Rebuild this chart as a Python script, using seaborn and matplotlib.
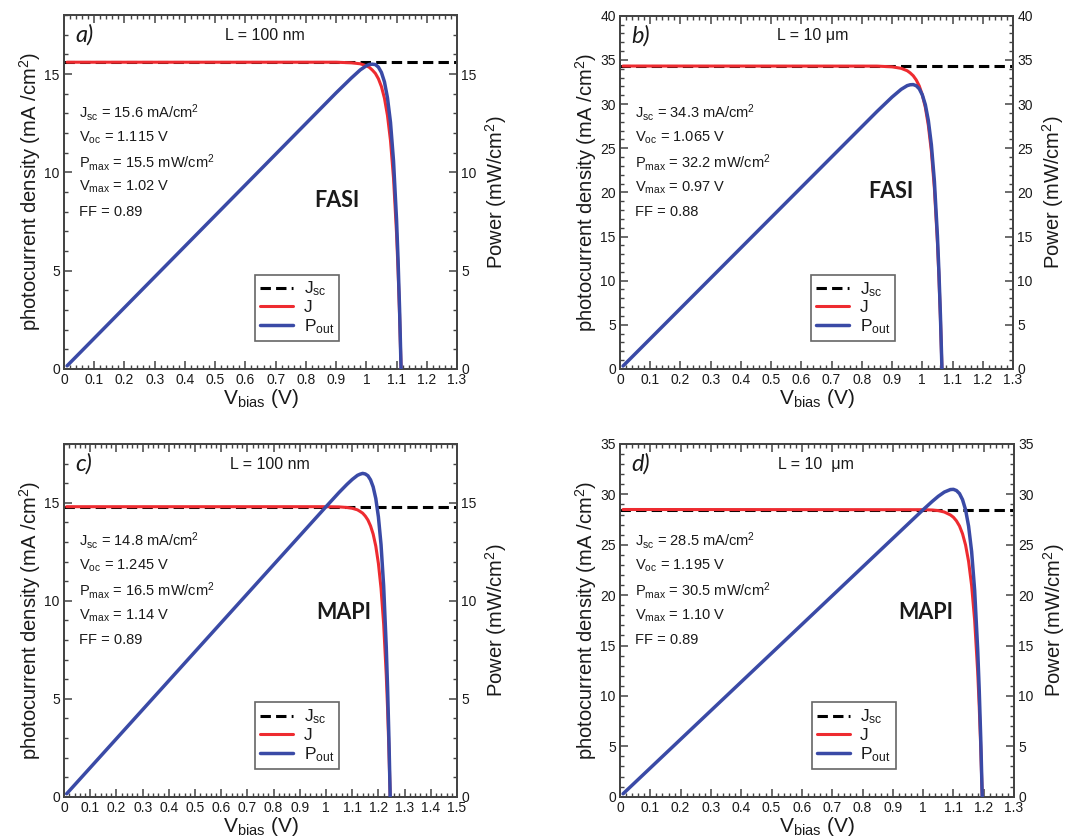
import matplotlib
matplotlib.use("Agg")
import matplotlib.pyplot as plt
from matplotlib.ticker import MultipleLocator, FuncFormatter
import seaborn as sns

# ---------------------------------------------------------------- data
# a) FASI, L = 100 nm
V_A = [0.01, 0.90, 0.95, 0.98, 1.00, 1.01, 1.02, 1.03, 1.04, 1.05, 1.06,
       1.07, 1.08, 1.09, 1.10, 1.105, 1.11, 1.115]
J_A = [15.60, 15.60, 15.57, 15.52, 15.42, 15.34, 15.20, 15.03, 14.76, 14.36,
       13.77, 12.89, 11.61, 9.70, 6.90, 5.03, 2.76, 0.00]
P_A = [0.16, 14.04, 14.79, 15.21, 15.42, 15.49, 15.50, 15.48, 15.35, 15.08,
       14.60, 13.79, 12.54, 10.58, 7.59, 5.56, 3.06, 0.00]
STATS_A = {"jsc": "15.6", "voc": "1.115", "pmax": "15.5", "vmax": "1.02", "ff": "0.89"}

# b) FASI, L = 10 um
V_B = [0.01, 0.85, 0.90, 0.93, 0.95, 0.96, 0.97, 0.98, 0.99, 1.00, 1.01,
       1.02, 1.03, 1.04, 1.05, 1.055, 1.06, 1.065]
J_B = [34.30, 34.29, 34.21, 34.04, 33.77, 33.52, 33.20, 32.72, 32.04, 31.04,
       29.63, 27.58, 24.65, 20.44, 14.37, 10.42, 5.68, 0.00]
P_B = [0.34, 29.15, 30.79, 31.66, 32.08, 32.18, 32.20, 32.07, 31.72, 31.04,
       29.93, 28.13, 25.39, 21.26, 15.09, 10.99, 6.02, 0.00]
STATS_B = {"jsc": "34.3", "voc": "1.065", "pmax": "32.2", "vmax": "0.97", "ff": "0.88"}

# c) MAPI, L = 100 nm
V_C = [0.01, 1.00, 1.05, 1.08, 1.10, 1.12, 1.13, 1.14, 1.15, 1.16, 1.17,
       1.18, 1.19, 1.20, 1.21, 1.22, 1.23, 1.235, 1.24, 1.245]
J_C = [14.80, 14.80, 14.79, 14.76, 14.72, 14.64, 14.56, 14.47, 14.32, 14.12,
       13.82, 13.40, 12.79, 11.90, 10.64, 8.82, 6.20, 4.50, 2.46, 0.00]
P_C = [0.15, 14.80, 15.53, 15.94, 16.19, 16.40, 16.46, 16.50, 16.47, 16.38,
       16.17, 15.81, 15.22, 14.28, 12.87, 10.76, 7.63, 5.56, 3.05, 0.00]
STATS_C = {"jsc": "14.8", "voc": "1.245", "pmax": "16.5", "vmax": "1.14", "ff": "0.89"}

# d) MAPI, L = 10 um
V_D = [0.01, 1.00, 1.03, 1.05, 1.07, 1.09, 1.10, 1.11, 1.12, 1.13, 1.14,
       1.15, 1.16, 1.17, 1.18, 1.185, 1.19, 1.195]
J_D = [28.50, 28.48, 28.45, 28.39, 28.25, 27.96, 27.73, 27.37, 26.86, 26.09,
       24.98, 23.35, 20.97, 17.50, 12.39, 9.01, 4.93, 0.00]
P_D = [0.29, 28.48, 29.30, 29.81, 30.23, 30.48, 30.50, 30.38, 30.08, 29.48,
       28.48, 26.85, 24.33, 20.48, 14.62, 10.68, 5.87, 0.00]
STATS_D = {"jsc": "28.5", "voc": "1.195", "pmax": "30.5", "vmax": "1.10", "ff": "0.89"}

LETTERS = ["a)", "b)", "c)", "d)"]
LENGTHS = ["L = 100 nm", "L = 10 \u03bcm", "L = 100 nm", "L = 10  \u03bcm"]
MATERIALS = ["FASI", "FASI", "MAPI", "MAPI"]
X_MAX = [1.3, 1.3, 1.5, 1.3]
Y_MAX = [18, 40, 18, 35]
LEGEND_LABELS = ["$J_{sc}$", "J", "$P_{out}$"]

# ---------------------------------------------------------------- style
sns.set_theme(style="ticks")
plt.rcParams["font.family"] = ["Liberation Sans", "DejaVu Sans"]
plt.rcParams["mathtext.default"] = "regular"
plt.rcParams["axes.linewidth"] = 1.3
plt.rcParams["axes.edgecolor"] = "#444444"

RED = "#EE2B30"
BLUE = "#3A4AA6"
INK = "#1a1a1a"

fig = plt.figure(figsize=(10.69, 8.39), dpi=100)
fig.patch.set_facecolor("white")

positions = [
    [0.0599, 0.5602, 0.3676, 0.4219],
    [0.5800, 0.5602, 0.3676, 0.4211],
    [0.0599, 0.0504, 0.3676, 0.4204],
    [0.5800, 0.0504, 0.3686, 0.4204],
]
curves = [(V_A, J_A, P_A, STATS_A), (V_B, J_B, P_B, STATS_B),
          (V_C, J_C, P_C, STATS_C), (V_D, J_D, P_D, STATS_D)]

material_pos = [(0.694, 0.477), (0.689, 0.502), (0.711, 0.522), (0.776, 0.522)]
length_x = [0.51, 0.49, 0.524, 0.496]


def volt_fmt(x, _):
    if abs(x - round(x)) < 1e-9:
        return f"{int(round(x))}"
    return f"{x:.1f}"


for i, (v, j, p, st) in enumerate(curves):
    ax = fig.add_axes(positions[i])
    ax2 = ax.twinx()
    xmax, ymax = X_MAX[i], Y_MAX[i]
    jsc = float(st["jsc"])

    # short-circuit current reference
    dash = ax.axhline(jsc, color="black", lw=2.2, dashes=(3.4, 1.7), zorder=1)
    sns.lineplot(x=v, y=j, ax=ax, color=RED, linewidth=2.2, sort=False,
                 estimator=None, legend=False, zorder=2)
    red_line = ax.lines[-1]
    sns.lineplot(x=v, y=p, ax=ax2, color=BLUE, linewidth=2.5, sort=False,
                 estimator=None, legend=False, zorder=3)
    blue_line = ax2.lines[-1]

    for a in (ax, ax2):
        a.set_xlim(0, xmax)
        a.set_ylim(0, ymax)
        a.yaxis.set_major_locator(MultipleLocator(5))
        a.yaxis.set_minor_locator(MultipleLocator(1))
        for s in a.spines.values():
            s.set_visible(True)
            s.set_color("#444444")
            s.set_linewidth(1.3)
    ax.xaxis.set_major_locator(MultipleLocator(0.1))
    ax.xaxis.set_minor_locator(MultipleLocator(0.02))
    ax.xaxis.set_major_formatter(FuncFormatter(volt_fmt))

    ax.tick_params(which="both", direction="in", top=True, bottom=True,
                   left=True, right=False, colors="#444444", labelcolor=INK,
                   labelsize=10, pad=3)
    ax.tick_params(which="major", length=6, width=1.1)
    ax.tick_params(which="minor", length=3, width=1.0)
    ax2.tick_params(which="both", direction="in", right=True, left=False,
                    colors="#444444", labelcolor=INK, labelsize=10, pad=3)
    ax2.tick_params(which="major", length=6, width=1.1)
    ax2.tick_params(which="minor", length=3, width=1.0)

    ax.set_xlabel("$V_{bias}$ (V)", fontsize=15, color=INK, labelpad=0)
    ax.set_ylabel("photocurrent density (mA /cm$^2$)", fontsize=14.5,
                  color=INK, labelpad=1)
    ax2.set_ylabel("Power (mW/cm$^2$)", fontsize=14.5, color=INK, labelpad=5)
    ax.grid(False)
    ax2.grid(False)

    # panel letter, length and material tags
    ax.text(0.028, 0.943, LETTERS[i], transform=ax.transAxes, fontsize=17,
            style="italic", family=["Lato", "DejaVu Sans"], color=INK,
            ha="left", va="center")
    ax.text(length_x[i], 0.943, LENGTHS[i], transform=ax.transAxes,
            fontsize=11.5, color=INK, ha="center", va="center")
    mx, my = material_pos[i]
    ax.text(mx, my, MATERIALS[i], transform=ax.transAxes, fontsize=15.5,
            weight="bold", family=["Lato", "DejaVu Sans"], color=INK,
            ha="center", va="center")

    # device figures of merit
    lines = [
        f"$J_{{sc}}$ = {st['jsc']} mA/cm$^2$",
        f"$V_{{oc}}$ = {st['voc']} V",
        f"$P_{{max}}$ = {st['pmax']} mW/cm$^2$",
        f"$V_{{max}}$ = {st['vmax']} V",
        f"FF = {st['ff']}",
    ]
    for k, txt in enumerate(lines):
        ax.text(0.038, 0.725 - k * 0.0705, txt, transform=ax.transAxes,
                fontsize=10.5, color=INK, ha="left", va="center")

    leg = ax2.legend([dash, red_line, blue_line], LEGEND_LABELS,
                     loc="lower left", bbox_to_anchor=(0.486, 0.079),
                     borderaxespad=0, frameon=True, fancybox=False,
                     edgecolor="#666666", framealpha=1, fontsize=12.5,
                     handlelength=1.9, handletextpad=0.6, labelspacing=0.1,
                     borderpad=0.3)
    leg.get_frame().set_linewidth(1.2)
    for t in leg.get_texts():
        t.set_color(INK)

fig.savefig("out.png", dpi=100, facecolor="white")
